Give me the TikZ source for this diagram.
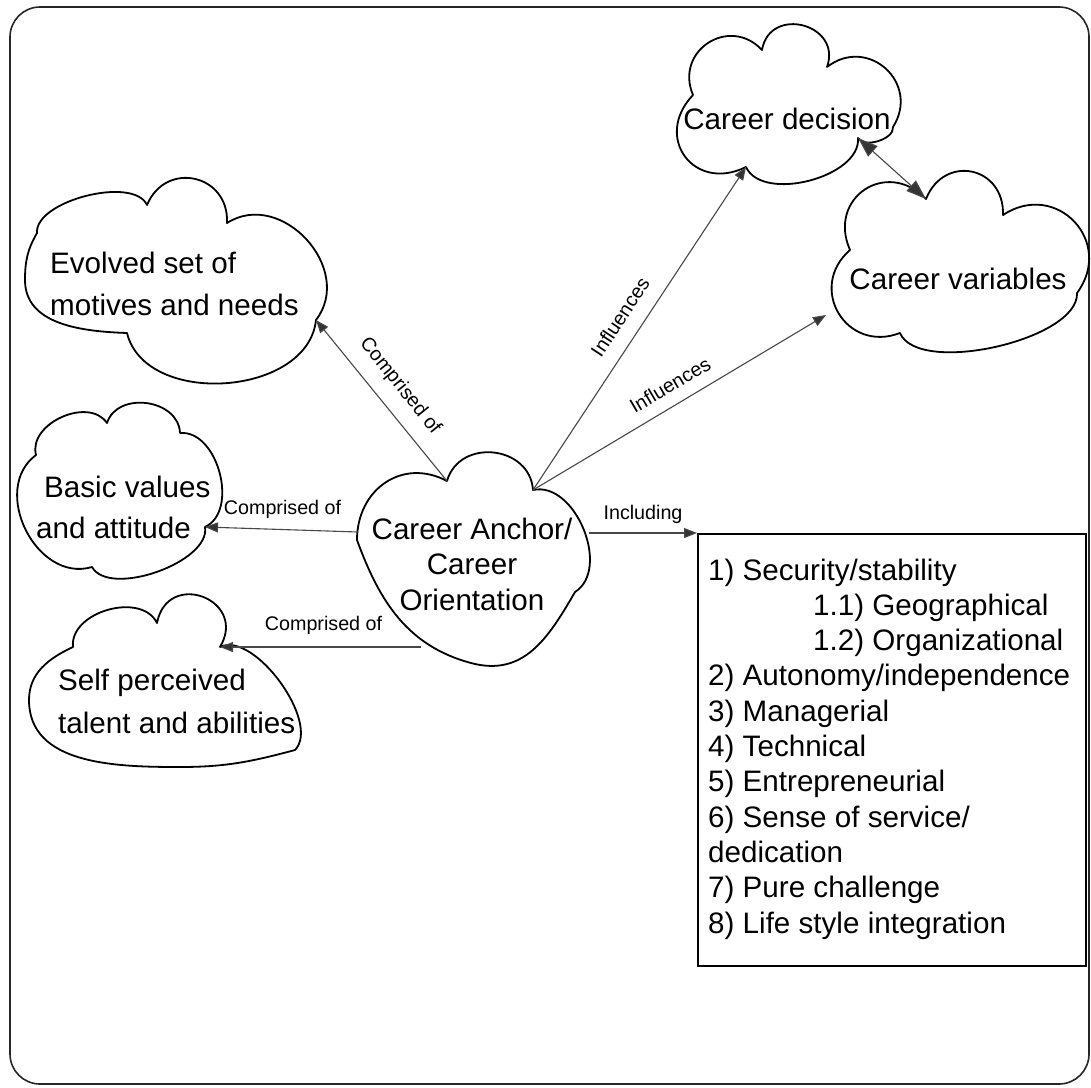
\documentclass[tikz,border=0pt]{standalone}
\usepackage{fontspec}
\setmainfont{Liberation Sans}
\usetikzlibrary{arrows.meta}

\newcommand{\cloudfont}[1]{\fontsize{29.6}{#1}\selectfont}
\newcommand{\labelfont}{\fontsize{19.7}{23}\selectfont}

\begin{document}
\begin{tikzpicture}[x=1pt,y=-1pt,
  cloud/.style={draw=black, line width=1.8pt, line join=round, line cap=round},
  lobe/.style 2 args={bend left=#1, looseness=#2},
  txt/.style={inner sep=0pt, anchor=base west},
  lbl/.style={font=\labelfont, inner sep=0pt},
  link/.style={draw=black!72, line width=1.1pt,
    -{Triangle[length=13pt,width=10pt,fill=black!80]}},
  dlink/.style={draw=black!72, line width=1.1pt,
    {Triangle[length=20pt,width=14pt,fill=black!80]}-{Triangle[length=20pt,width=14pt,fill=black!80]}},
  frame/.style={draw=black!85, line width=1.6pt, rounded corners=30pt},
  listbox/.style={draw=black, line width=1.6pt, inner sep=0pt}
]
\useasboundingbox (0,0) rectangle (1091,1087);
\fill[white] (0,0) rectangle (1091,1087);
\draw[frame] (10,7) rectangle (1089,1084);

% ---- cloud outline points ----
% Career decision
\coordinate (cd1) at (693,95);
\coordinate (cd2) at (762,50);
\coordinate (cd3) at (827,67);
\coordinate (cd4) at (893,127);
\coordinate (cd5) at (858,138);
\coordinate (cd6) at (746,167);
% Career variables
\coordinate (cv1) at (850,250);
\coordinate (cv2) at (926,199);
\coordinate (cv3) at (1003,215);
\coordinate (cv4) at (1077,293);
\coordinate (cv5) at (900,333);
\coordinate (cvin) at (826,315);
% Evolved set of motives and needs
\coordinate (ev1) at (37,233);
\coordinate (ev2) at (147,205);
\coordinate (ev3) at (227,223);
\coordinate (ev4) at (316,320);
\coordinate (ev5) at (127,333);
% Basic values and attitude
\coordinate (bv1) at (36,455);
\coordinate (bv2) at (107,423);
\coordinate (bv3) at (180,433);
\coordinate (bv4) at (205,527);
\coordinate (bv5) at (92,567);
% Self perceived talent and abilities
\coordinate (sp1) at (73,647);
\coordinate (sp2) at (157,623);
\coordinate (sp3) at (220,647);
\coordinate (sp4) at (295,750);
% Career Anchor / Career Orientation
\coordinate (ca1) at (447,481);
\coordinate (ca2) at (533,490);
\coordinate (ca3) at (575,592);
\coordinate (cabot) at (471,663);
\coordinate (caleft) at (357,540);
\coordinate (caw) at (358,532);
\coordinate (casw) at (421,647);
\coordinate (cae) at (589,533);

% ---- clouds ----
\draw[cloud] (cd1) to[lobe={80}{1.49}] (cd2) to[lobe={95}{1.74}] (cd3)
  to[lobe={80}{1.49}] (cd4) to[lobe={80}{0.85}] (cd5) to[lobe={80}{0.87}] (cd6)
  to[lobe={80}{1.66}] (cd1);

\draw[cloud] (cv1) to[lobe={80}{1.59}] (cv2) to[lobe={80}{1.59}] (cv3)
  to[lobe={80}{1.52}] (cv4) to[lobe={80}{0.66}] (cv5) to[lobe={80}{1.52}] (cv1);

\draw[cloud] (ev1) to[lobe={80}{0.73}] (ev2) to[lobe={80}{1.52}] (ev3)
  to[lobe={80}{1.25}] (ev4) to[lobe={80}{1.04}] (ev5)
  to[out=178,in=270] (25,280) to[out=90,in=240] (ev1);

\draw[cloud] (bv1) to[lobe={80}{1.07}] (bv2) to[lobe={80}{1.18}] (bv3)
  to[lobe={80}{1.0}] (bv4) to[lobe={80}{0.76}] (bv5) to[lobe={80}{1.18}] (bv1);

\draw[cloud] (sp1) to[lobe={80}{1.04}] (sp2) to[lobe={100}{2.1}] (sp3)
  to[lobe={80}{0.76}] (sp4) to[out=195,in=0] (180,767)
  to[out=180,in=270] (29,700) to[out=90,in=205] (sp1);

\draw[cloud] (ca1) to[lobe={80}{1.33}] (ca2) to[lobe={80}{1.0}] (ca3)
  to[out=240,in=345,looseness=1.1] (cabot) to[out=165,in=290] (caleft)
  to[out=90,in=152,looseness=1.2] (ca1);

% ---- cloud texts ----
\node[txt, anchor=base, font=\cloudfont{36}] (cdtext) at (787,129) {Career decision};
\node[txt, anchor=base, font=\cloudfont{36}] (cvtext) at (958,289) {Career variables};
\node[txt, font=\cloudfont{42}] (evtext) at (50,273)
  {\begin{tabular}[t]{@{}l@{}}Evolved set of\\motives and needs\end{tabular}};
\node[txt, font=\cloudfont{41}] (bvtext) at (36,497)
  {\begin{tabular}[t]{@{}l@{}}\hspace*{8pt}Basic values\\and attitude\end{tabular}};
\node[txt, font=\cloudfont{43}] (sptext) at (58,690)
  {\begin{tabular}[t]{@{}l@{}}Self perceived\\talent and abilities\end{tabular}};
\node[txt, anchor=base, font=\cloudfont{35.5}] (catext) at (472,539)
  {\begin{tabular}[t]{@{}c@{}}Career Anchor/\\Career\\Orientation\end{tabular}};

% ---- list of anchors ----
\node[listbox, minimum width=388pt, minimum height=432pt, anchor=north west] (box) at (697,533) {};
\node[txt, font=\cloudfont{35.3}] (items) at (708,580)
  {\begin{tabular}[t]{@{}l@{}}
   1) Security/stability\\
   \hspace*{105pt}1.1) Geographical\\
   \hspace*{105pt}1.2) Organizational\\
   2) Autonomy/independence\\
   3) Managerial\\
   4) Technical\\
   5) Entrepreneurial\\
   6) Sense of service/\\
   dedication\\
   7) Pure challenge\\
   8) Life style integration
   \end{tabular}};

% ---- connectors ----
\draw[link] (ca1) -- (ev4);
\draw[link] (caw) -- (bv4);
\draw[link] (casw) -- (sp3);
\draw[link] (ca2) -- (cd6);
\draw[link] (ca2) -- (cvin);
\draw[link] (cae) -- (box.north west);
\draw[dlink] (cd5) -- (cv2);

% ---- connector labels ----
\node[lbl, rotate=-51.2] (lbev) at (400,386) {Comprised of};
\node[lbl, anchor=base] (lbbv) at (282.5,514) {Comprised of};
\node[lbl, anchor=base] (lbsp) at (323.5,630) {Comprised of};
\node[lbl, anchor=base] (lbin) at (643,519) {Including};
\node[lbl, rotate=56.7] (lbcd) at (620,317) {Influences};
\node[lbl, rotate=30.6] (lbcv) at (670,385) {Influences};
\end{tikzpicture}
\end{document}
